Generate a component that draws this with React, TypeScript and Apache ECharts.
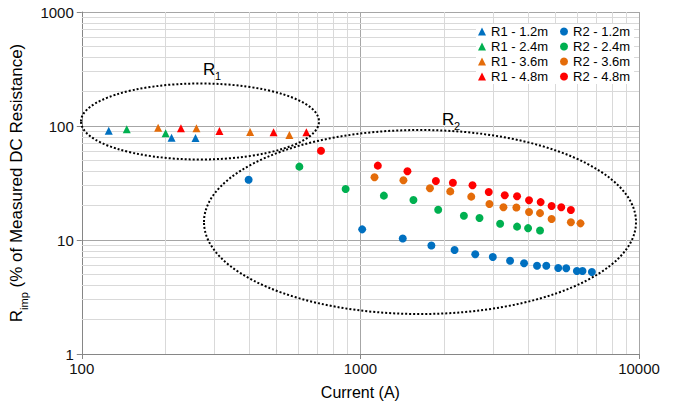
import React, { useEffect, useRef } from "react";
import * as echarts from "echarts";

// ---- data (Current in A, Rimp in % of measured DC resistance) ----
const r1Blue_x = [125, 210, 256];
const r1Blue_y = [91, 79, 78.5];
const r1Green_x = [145, 200];
const r1Green_y = [93.6, 86.3];
const r1Orange_x = [188, 258, 402, 556];
const r1Orange_y = [96.7, 95.4, 88.5, 83.4];
const r1Red_x = [227, 312, 488, 640];
const r1Red_y = [95.4, 90.3, 88.1, 88.1];

const r2Blue_x = [397, 1015, 1419, 1798, 2178, 2584, 2987, 3446, 3867, 4305, 4648, 5130, 5480, 5985, 6270, 6775];
const r2Blue_y = [33.8, 12.4, 10.3, 8.95, 8.17, 7.49, 7.09, 6.58, 6.25, 5.95, 5.95, 5.68, 5.65, 5.35, 5.35, 5.24];
const r2Green_x = [604, 885, 1214, 1550, 1902, 2352, 2676, 3174, 3650, 3998, 4413];
const r2Green_y = [44, 28, 24.5, 22.4, 18.4, 16.3, 15.6, 13.9, 13.1, 12.7, 12.1];
const r2Orange_x = [1124, 1427, 1777, 2102, 2500, 2906, 3262, 3630, 4030, 4413, 4856, 5696, 6166];
const r2Orange_y = [35.5, 33.4, 28.4, 26.7, 24.0, 20.7, 19.4, 19.3, 17.6, 17.2, 15.3, 14.3, 14.0];
const r2Red_x = [722, 1155, 1475, 1866, 2148, 2526, 2889, 3297, 3650, 4030, 4436, 4856, 5260, 5696];
const r2Red_y = [60.7, 44.9, 40.1, 32.9, 31.8, 30.2, 26.4, 24.7, 24.2, 22.3, 21.5, 19.9, 19.4, 18.3];

const r1Names = ["R1 - 1.2m", "R1 - 2.4m", "R1 - 3.6m", "R1 - 4.8m"];
const r2Names = ["R2 - 1.2m", "R2 - 2.4m", "R2 - 3.6m", "R2 - 4.8m"];
const colors = ["#0070C0", "#00B050", "#E46C0A", "#FF0000"];

const minorX = [200, 300, 400, 500, 600, 700, 800, 900, 2000, 3000, 4000, 5000, 6000, 7000, 8000, 9000];
const minorY = [2, 3, 4, 5, 6, 7, 8, 9, 20, 30, 40, 50, 60, 70, 80, 90, 200, 300, 400, 500, 600, 700, 800, 900];

const FONT = "'Liberation Sans', Arial, sans-serif";

const zip = (xs: number[], ys: number[]) => xs.map((x, i) => [x, ys[i]]);

export default function App() {
  const ref = useRef<HTMLDivElement>(null);
  useEffect(() => {
    const chart = echarts.init(ref.current!, null, { renderer: "svg" });
    const r1 = [
      zip(r1Blue_x, r1Blue_y),
      zip(r1Green_x, r1Green_y),
      zip(r1Orange_x, r1Orange_y),
      zip(r1Red_x, r1Red_y),
    ];
    const r2 = [
      zip(r2Blue_x, r2Blue_y),
      zip(r2Green_x, r2Green_y),
      zip(r2Orange_x, r2Orange_y),
      zip(r2Red_x, r2Red_y),
    ];
    const series: any[] = [
      {
        type: "scatter",
        name: "grid-minor",
        data: [],
        silent: true,
        z: 1,
        markLine: {
          z: 1,
          silent: true,
          symbol: ["none", "none"],
          label: { show: false },
          emphasis: { disabled: true },
          lineStyle: { color: "#d9d9d9", width: 1, type: "solid" },
          data: [
            ...minorX.map((v) => ({ xAxis: v })),
            ...minorY.map((v) => ({ yAxis: v })),
          ],
        },
      },
    ];
    r1.forEach((d, i) =>
      series.push({
        type: "scatter",
        name: r1Names[i],
        data: d,
        symbol: "triangle",
        symbolSize: 8,
        itemStyle: { color: colors[i], opacity: 1 },
        z: 6,
      })
    );
    r2.forEach((d, i) =>
      series.push({
        type: "scatter",
        name: r2Names[i],
        data: d,
        symbol: "circle",
        symbolSize: 8,
        itemStyle: { color: colors[i], opacity: 1 },
        z: 6,
      })
    );

    const dotted = { fill: "none", stroke: "#000", lineWidth: 2, lineDash: [2, 2] };
    const legendCommon = {
      orient: "vertical",
      top: 24,
      itemWidth: 8,
      itemHeight: 8,
      itemGap: 2,
      itemTextGap: 3,
      backgroundColor: "#fff",
      z: 8,
      textStyle: { fontSize: 13, color: "#000", fontFamily: FONT },
    };

    chart.setOption({
      animation: false,
      textStyle: { fontFamily: FONT },
      grid: { left: 80, right: 37, top: 12, bottom: 53, containLabel: false },
      xAxis: {
        type: "log",
        logBase: 10,
        min: 100,
        max: 10000,
        name: "Current (A)",
        nameLocation: "middle",
        nameGap: 30,
        nameTextStyle: { fontSize: 16, color: "#000", fontFamily: FONT },
        axisLine: { lineStyle: { color: "#868686" } },
        axisTick: { show: true, length: 5, lineStyle: { color: "#868686" } },
        axisLabel: { fontSize: 15, color: "#111", margin: 7, fontFamily: FONT, formatter: (v: number) => String(v) },
        splitLine: { show: true, lineStyle: { color: "#a6a6a6" } },
      },
      yAxis: {
        type: "log",
        logBase: 10,
        min: 1,
        max: 1000,
        name: "{a|R}{b|imp}{a| (% of Measured DC Resistance)}",
        nameLocation: "middle",
        nameGap: 47,
        nameRotate: 90,
        nameTextStyle: {
          color: "#000",
          fontFamily: FONT,
          rich: {
            a: { fontSize: 17, color: "#000", fontFamily: FONT, lineHeight: 20 },
            b: { fontSize: 11, color: "#000", fontFamily: FONT, verticalAlign: "bottom", lineHeight: 26 },
          },
        },
        axisLine: { show: true, lineStyle: { color: "#868686" } },
        axisTick: { show: true, length: 5, lineStyle: { color: "#868686" } },
        axisLabel: { fontSize: 15, color: "#111", margin: 8, fontFamily: FONT, formatter: (v: number) => String(v) },
        splitLine: { show: true, lineStyle: { color: "#a6a6a6" } },
      },
      legend: [
        {
          ...legendCommon,
          left: 476,
          padding: [1, 12, 1, 2],
          data: r1Names.map((n) => ({ name: n, icon: "triangle" })),
        },
        {
          ...legendCommon,
          left: 558,
          padding: [1, 4, 1, 2],
          data: r2Names.map((n) => ({ name: n, icon: "circle" })),
        },
      ],
      graphic: [
        {
          type: "ellipse",
          z: 7,
          silent: true,
          shape: { cx: 200, cy: 121.5, rx: 119, ry: 38 },
          style: dotted,
        },
        {
          type: "ellipse",
          z: 7,
          silent: true,
          shape: { cx: 420, cy: 222, rx: 216, ry: 92 },
          style: dotted,
        },
        {
          type: "text",
          z: 7,
          left: 203,
          top: 61,
          style: { text: "R", fontSize: 17, fill: "#000", fontFamily: FONT },
        },
        {
          type: "text",
          z: 7,
          left: 215,
          top: 70,
          style: { text: "1", fontSize: 11, fill: "#000", fontFamily: FONT },
        },
        {
          type: "text",
          z: 7,
          left: 442,
          top: 111,
          style: { text: "R", fontSize: 17, fill: "#000", fontFamily: FONT },
        },
        {
          type: "text",
          z: 7,
          left: 454,
          top: 120,
          style: { text: "2", fontSize: 11, fill: "#000", fontFamily: FONT },
        },
      ],
      series,
    });
    return () => chart.dispose();
  }, []);
  return (
    <div
      ref={ref}
      style={{ position: "absolute", left: 0, top: 0, width: 676, height: 407, background: "#fff" }}
    />
  );
}
